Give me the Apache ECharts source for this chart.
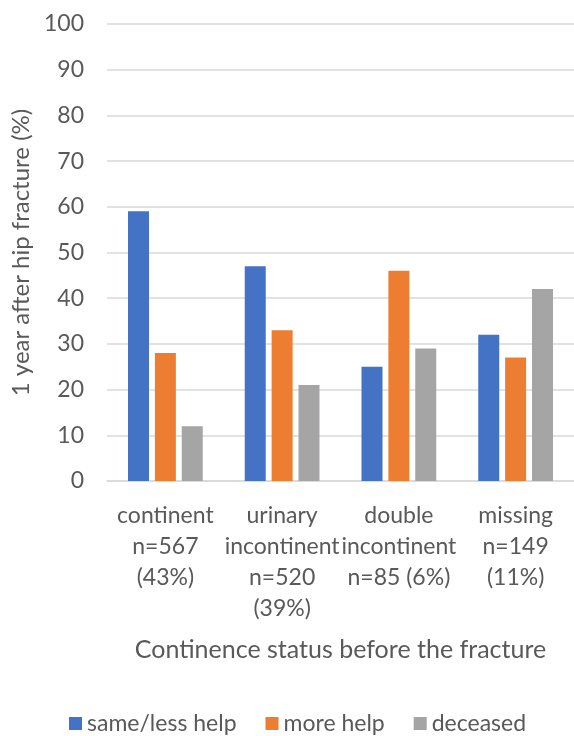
<!DOCTYPE html>
<html>
<head>
<meta charset="utf-8">
<script src="https://cdn.jsdelivr.net/npm/echarts@6/dist/echarts.min.js"></script>
<style>html,body{margin:0;padding:0;background:#fff}#c{width:574px;height:736px}</style>
</head>
<body>
<div id="c"></div>
<script>
const categories = ["continent\nn=567\n(43%)", "urinary\nincontinent\nn=520\n(39%)", "double\nincontinent\nn=85 (6%)", "missing\nn=149\n(11%)"];
const seriesNames = ["same/less help", "more help", "deceased"];
const sameLessHelp = [59, 47, 25, 32];
const moreHelp = [28, 33, 46, 27];
const deceased = [12, 21, 29, 42];
const yTicks = [0, 10, 20, 30, 40, 50, 60, 70, 80, 90, 100];
const colors = ["#4472C4", "#ED7D31", "#A5A5A5"];
const FONT = "Lato";
const TXT = "#595959";

const chart = echarts.init(document.getElementById('c'), null, {renderer: 'canvas'});
const values = [sameLessHelp, moreHelp, deceased];
chart.setOption({
  animation: false,
  textStyle: {fontFamily: FONT},
  color: colors,
  grid: {left: 107, top: 24, width: 478, height: 457, containLabel: false},
  legend: {
    data: seriesNames, left: 64, top: 707, icon: 'rect', itemWidth: 13, itemHeight: 13,
    itemGap: 29, textStyle: {fontFamily: FONT, fontSize: 23, color: TXT}
  },
  xAxis: {
    type: 'category', data: categories,
    axisLine: {lineStyle: {color: '#d9d9d9', width: 1.5}},
    axisTick: {show: false},
    axisLabel: {fontFamily: FONT, fontSize: 23, color: TXT, lineHeight: 31, margin: 19, interval: 0},
    name: "Continence status before the fracture", nameLocation: 'middle', nameGap: 156,
    nameTextStyle: {fontFamily: FONT, fontSize: 25, color: TXT}
  },
  yAxis: {
    type: 'value', min: yTicks[0], max: yTicks[yTicks.length - 1], interval: 10,
    axisLine: {show: false}, axisTick: {show: false},
    splitLine: {lineStyle: {color: '#d9d9d9', width: 1.5}},
    axisLabel: {fontFamily: FONT, fontSize: 23, color: TXT, margin: 23},
    name: "1 year after hip fracture (%)", nameLocation: 'middle', nameGap: 72, nameRotate: 90,
    nameTextStyle: {fontFamily: FONT, fontSize: 24, color: TXT}
  },
  series: seriesNames.map((n, i) => ({
    name: n, type: 'bar', data: values[i], barWidth: 21, barGap: '28%'
  }))
});
</script>
</body>
</html>
